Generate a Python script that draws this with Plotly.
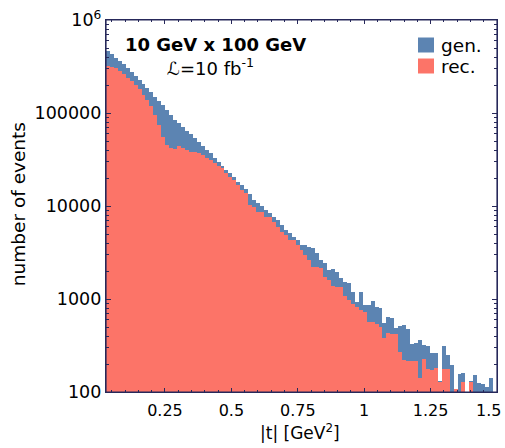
import numpy as np
import plotly.graph_objects as go

# |t| histogram: 99 equal bins between t_lo and t_hi (GeV^2)
t_lo, t_hi = 0.028, 1.5

gen_counts = [464500, 427600, 393600, 362400, 334000, 302700, 274200, 250000, 226500, 205100,
              184500, 167100, 149600, 134600, 121100, 107600, 95100, 84100, 77500, 70200,
              64500, 59000, 53500, 48400, 44200, 40000, 36900, 32600, 29500, 26900,
              24400, 22500, 20400, 18240, 16830, 15140, 13460, 11610, 10840, 10000,
              9060, 8470, 7670, 7070, 6250, 5520, 5160, 4600, 4310, 3810,
              3780, 3600, 3510, 3125, 2625, 2440, 2050, 2100, 1965, 1670,
              1535, 1475, 1200, 935, 1200, 862, 870, 959, 827, 794,
              548, 636, 630, 484, 513, 525, 480, 328, 339, 362,
              320, 315, 265, 262, 131, 312, 250, 195, 108, 156,
              161, None, 131, 152, 124, 123, 112, 140, None]

rec_counts = [320000, 314800, 302700, 283100, 260600, 239900, 220800, 200000, 179900, 156300,
              138000, 118900, 95100, 74300, 55600, 45300, 41700, 41500, 44200, 41700,
              40000, 38400, 38200, 36900, 35300, 32800, 31260, 28800, 26900, 25400,
              22500, 20650, 19050, 16830, 14860, 13800, 10250, 9820, 8690, 8600,
              7670, 7600, 6780, 5990, 5290, 4880, 4310, 4280, 3810, 3365,
              2970, 2625, 2225, 2200, 2140, 1738, 1600, 1380, 1336, 1330,
              1077, 976, 884, 827, 762, 730, 562, 560, 539, 496,
              384, 428, 420, 418, 271, 221, 215, 216, 214, 143,
              225, 175, 174, 180, 129, 178, 178, None, 107, None,
              129, None, 129, None, None, None, None, None, None]

x_tick_vals = [0.25, 0.5, 0.75, 1.0, 1.25, 1.5]
x_tick_text = ["0.25", "0.5", "0.75", "1", "1.25", "1.5"]
y_tick_vals = [100, 1000, 10000, 100000, 1000000]
y_tick_text = ["100", "1000", "10000", "100000", "10<sup>6</sup>"]
series_names = ["gen.", "rec."]

n_bins = len(gen_counts)
edges = np.linspace(t_lo, t_hi, n_bins + 1)
centers = 0.5 * (edges[:-1] + edges[1:])
width = edges[1] - edges[0]

BLUE = "#5c84b2"
RED = "#fc7468"
FRAME = "#27295a"
FONT = "DejaVu Sans"

fig = go.Figure()
fig.add_trace(go.Bar(x=centers, y=gen_counts, width=width, name=series_names[0],
                     marker=dict(color=BLUE, line=dict(width=0))))
fig.add_trace(go.Bar(x=centers, y=rec_counts, width=width, name=series_names[1],
                     marker=dict(color=RED, line=dict(width=0))))

minor_y = [m * 10 ** d for d in range(2, 6) for m in range(2, 10)]
minor_x = [round(0.05 * i, 2) for i in range(1, 30) if round(0.05 * i, 2) not in x_tick_vals]

# last x tick label sits against the right edge, so it is placed as a right-anchored annotation
shown_tick_text = x_tick_text[:-1] + [""]

shapes = [
    dict(type="rect", xref="paper", yref="paper", x0=0, x1=1, y0=0, y1=1,
         line=dict(color=FRAME, width=1.2), layer="above"),
]
annotations = [
    dict(text=x_tick_text[-1], xref="x", yref="paper", x=x_tick_vals[-1], y=-0.049,
         xanchor="right", yanchor="middle", xshift=6, showarrow=False, font=dict(size=16)),
    dict(text="<b>10 GeV x 100 GeV</b>", xref="paper", yref="paper", x=0.043, y=0.933,
         xanchor="left", yanchor="middle", showarrow=False, font=dict(size=18)),
    dict(text="<i>ℒ</i>=10 fb<sup>-1</sup>", xref="paper", yref="paper", x=0.15, y=0.873,
         xanchor="left", yanchor="middle", showarrow=False, font=dict(size=18)),
    dict(text="number of events", xref="paper", yref="paper", x=-0.225, y=0.505,
         xanchor="center", yanchor="middle", textangle=-90, showarrow=False,
         font=dict(size=18.5)),
    dict(text="|t| [GeV<sup>2</sup>]", xref="paper", yref="paper", x=0.497, y=-0.1075,
         xanchor="center", yanchor="middle", showarrow=False, font=dict(size=17)),
]
px_w, px_h = 391.0, 372.0
for i, (name, col) in enumerate(zip(series_names, [BLUE, RED])):
    yc = 45 + 21 * i
    shapes.append(dict(type="rect", xref="paper", yref="paper",
                       x0=(418 - 106) / px_w, x1=(434 - 106) / px_w,
                       y0=(392 - (yc + 7.5)) / px_h, y1=(392 - (yc - 7.5)) / px_h,
                       line=dict(width=0), fillcolor=col, layer="above"))
    annotations.append(dict(text=name, xref="paper", yref="paper",
                            x=(439 - 106) / px_w, y=(392 - yc) / px_h,
                            xanchor="left", yanchor="middle", showarrow=False,
                            font=dict(size=18.5)))

fig.update_layout(
    width=505, height=448,
    margin=dict(l=106, r=8, t=20, b=56, autoexpand=False),
    paper_bgcolor="white", plot_bgcolor="white",
    barmode="overlay", bargap=0,
    font=dict(family=FONT, size=16, color="black"),
    showlegend=False,
    xaxis=dict(range=[t_lo, t_hi], showline=True, linecolor=FRAME, linewidth=1.2,
               mirror="allticks", ticks="inside", ticklen=4, tickcolor=FRAME,
               tickvals=x_tick_vals, ticktext=shown_tick_text, showgrid=False, zeroline=False,
               tickfont=dict(size=16), automargin=False, ticklabelstandoff=4,
               minor=dict(tickvals=minor_x, ticks="inside", ticklen=2, tickcolor=FRAME, showgrid=False)),
    yaxis=dict(type="log", range=[2, 6], showline=True, linecolor=FRAME, linewidth=1.2,
               mirror="allticks", ticks="inside", ticklen=5, tickcolor=FRAME,
               tickvals=y_tick_vals, ticktext=y_tick_text, showgrid=False, zeroline=False,
               tickfont=dict(size=17.5), automargin=False, ticklabeloverflow="allow",
               minor=dict(tickvals=minor_y, ticks="inside", ticklen=3, tickcolor=FRAME, showgrid=False)),
    shapes=shapes,
    annotations=annotations,
)

fig.write_html("out.html", config={"displayModeBar": False},
               post_script="document.body.style.margin='0';document.body.style.padding='0';")
